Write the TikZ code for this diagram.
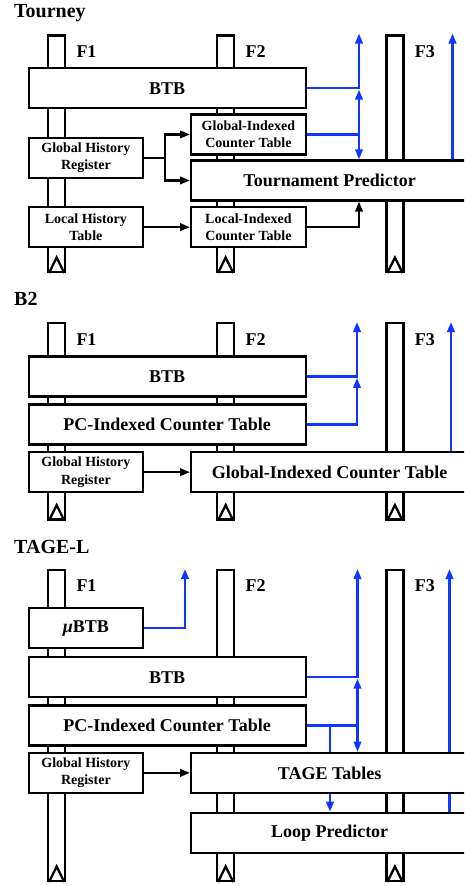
\documentclass[tikz,border=0pt]{standalone}
\usepackage{fontspec}
\setmainfont{Liberation Serif}
\usetikzlibrary{arrows.meta, positioning, backgrounds}
\definecolor{predblue}{RGB}{15,55,255}

\begin{document}
\begin{tikzpicture}[
    x=1pt, y=-1pt,
    >={Triangle[length=10pt,width=7.5pt]},
    stage/.style={rectangle, draw, line width=2.3pt, fill=white, anchor=north west, minimum width=17pt, inner sep=0pt},
    stagelbl/.style={inner sep=0pt, font=\bfseries\fontsize{18}{20}\selectfont},
    clock/.style={line width=2.3pt},
    sectitle/.style={inner sep=0pt, anchor=base west, font=\bfseries\fontsize{20}{24}\selectfont},
    blockbox/.style={rectangle, draw, line width=2.3pt, fill=white, anchor=north west, minimum height=40pt, inner sep=0pt, align=center, font=\bfseries\fontsize{18}{20}\selectfont},
    widebox/.style={blockbox, minimum width=277pt},
    narrowbox/.style={blockbox, minimum width=114.5pt},
    smalltxt/.style={font=\bfseries\fontsize{14}{17.5}\selectfont},
    flow/.style={->, line width=2.2pt},
    pred/.style={flow, draw=predblue}
]
\useasboundingbox (0,0) rectangle (464,886);
\clip (0,0) rectangle (464,886);

% Pipeline stages
\foreach \s/\top/\len in {T/34.3/236.4, B/322/196.3, L/568.7/311} {
  \node[stage, minimum height=\len pt] (f1\s) at (47,\top) {};
  \node[stage, minimum height=\len pt] (f2\s) at (216,\top) {};
  \node[stage, minimum height=\len pt] (f3\s) at (385.3,\top) {};
  \foreach \f in {1,2,3} {
    \draw[clock] ([xshift=2pt]f\f\s.south west) -- ([yshift=15.5pt]f\f\s.south) -- ([xshift=-2pt]f\f\s.south east);
    \node[stagelbl] (f\f\s lbl) [below right=11pt and 10pt of f\f\s.north east] {F\f};
  }
}

% Titles
\node[sectitle] (tourney) at (14,17.3) {Tourney};
\node[sectitle] (btwo) at (14,305) {B2};
\node[sectitle] (tagel) at (14,553) {TAGE-L};

% Tourney
\node[widebox] (btbT) at (27.5,67) {BTB};
\node[narrowbox, smalltxt] (gictT) at (190,113.3) {Global-Indexed\\Counter Table};
\node[narrowbox, smalltxt] (ghrT) at (27.5,136.7) {Global History\\Register};
\node[widebox] (tpT) at (190,159.3) {Tournament Predictor};
\node[narrowbox, smalltxt] (lhtT) at (27.5,206) {Local History\\Table};
\node[narrowbox, smalltxt] (lictT) at (190,206) {Local-Indexed\\Counter Table};

\coordinate (busT) at (359,0);
\coordinate (outT) at (359,33.5);
\coordinate (farT) at (452.5,33.5);

\draw[flow] (ghrT.east) -- ++(21,0) |- (gictT.west);
\draw[flow] (ghrT.east) -- ++(21,0) |- (tpT.west);
\draw[flow] (lhtT.east) -- (lictT.west);
\draw[flow] (lictT.east) -| (tpT.south -| busT);
\draw[pred] (btbT.east) -| (outT);
\draw[pred, -] (gictT.east) -- (gictT.east -| busT);
\draw[pred, <->, shorten <=1.5pt] (btbT.east -| busT) -- (tpT.north -| busT);
\draw[pred] (tpT.north -| farT) -- (farT);

% B2
\node[widebox] (btbB) at (27.5,355.3) {BTB};
\node[widebox] (pcB) at (27.5,403.3) {PC-Indexed Counter Table};
\node[narrowbox, smalltxt] (ghrB) at (27.5,451) {Global History\\Register};
\node[widebox] (gictB) at (190,451) {Global-Indexed Counter Table};

\coordinate (busB) at (357,0);
\coordinate (outB) at (357,322);
\coordinate (farB) at (451,322);

\draw[flow] (ghrB.east) -- (gictB.west);
\draw[pred] (btbB.east) -| (outB);
\draw[pred, shorten >=1.5pt] (pcB.east) -| (btbB.east -| busB);
\draw[pred] (gictB.north -| farB) -- (farB);

% TAGE-L
\node[narrowbox] (ubtbL) at (27.5,607) {\textit{μ}BTB};
\node[widebox] (btbL) at (27.5,656) {BTB};
\node[widebox] (pcL) at (27.5,704.3) {PC-Indexed Counter Table};
\node[narrowbox, smalltxt] (ghrL) at (27.5,751.7) {Global History\\Register};
\node[widebox] (tageL) at (190,751.7) {TAGE Tables};
\node[widebox] (loopL) at (190,811.7) {Loop Predictor};

\coordinate (busL) at (357.5,0);
\coordinate (tapL) at (330,0);
\coordinate (outL) at (357.5,569);
\coordinate (outuL) at (185,569);
\coordinate (farL) at (449.5,569);

\draw[flow] (ghrL.east) -- (tageL.west);
\draw[pred] (ubtbL.east) -| (outuL);
\draw[pred] (btbL.east) -| (outL);
\draw[pred, -] (pcL.east) -- (pcL.east -| busL);
\draw[pred, <->, shorten <=1.5pt] (btbL.east -| busL) -- (tageL.north -| busL);
\draw[pred, -] (pcL.east -| tapL) -- (tageL.north -| tapL);
\draw[pred] (tageL.south -| tapL) -- (loopL.north -| tapL);
\begin{scope}[on background layer]
  \draw[pred] (loopL.north -| farL) -- (farL);
\end{scope}

\end{tikzpicture}
\end{document}
